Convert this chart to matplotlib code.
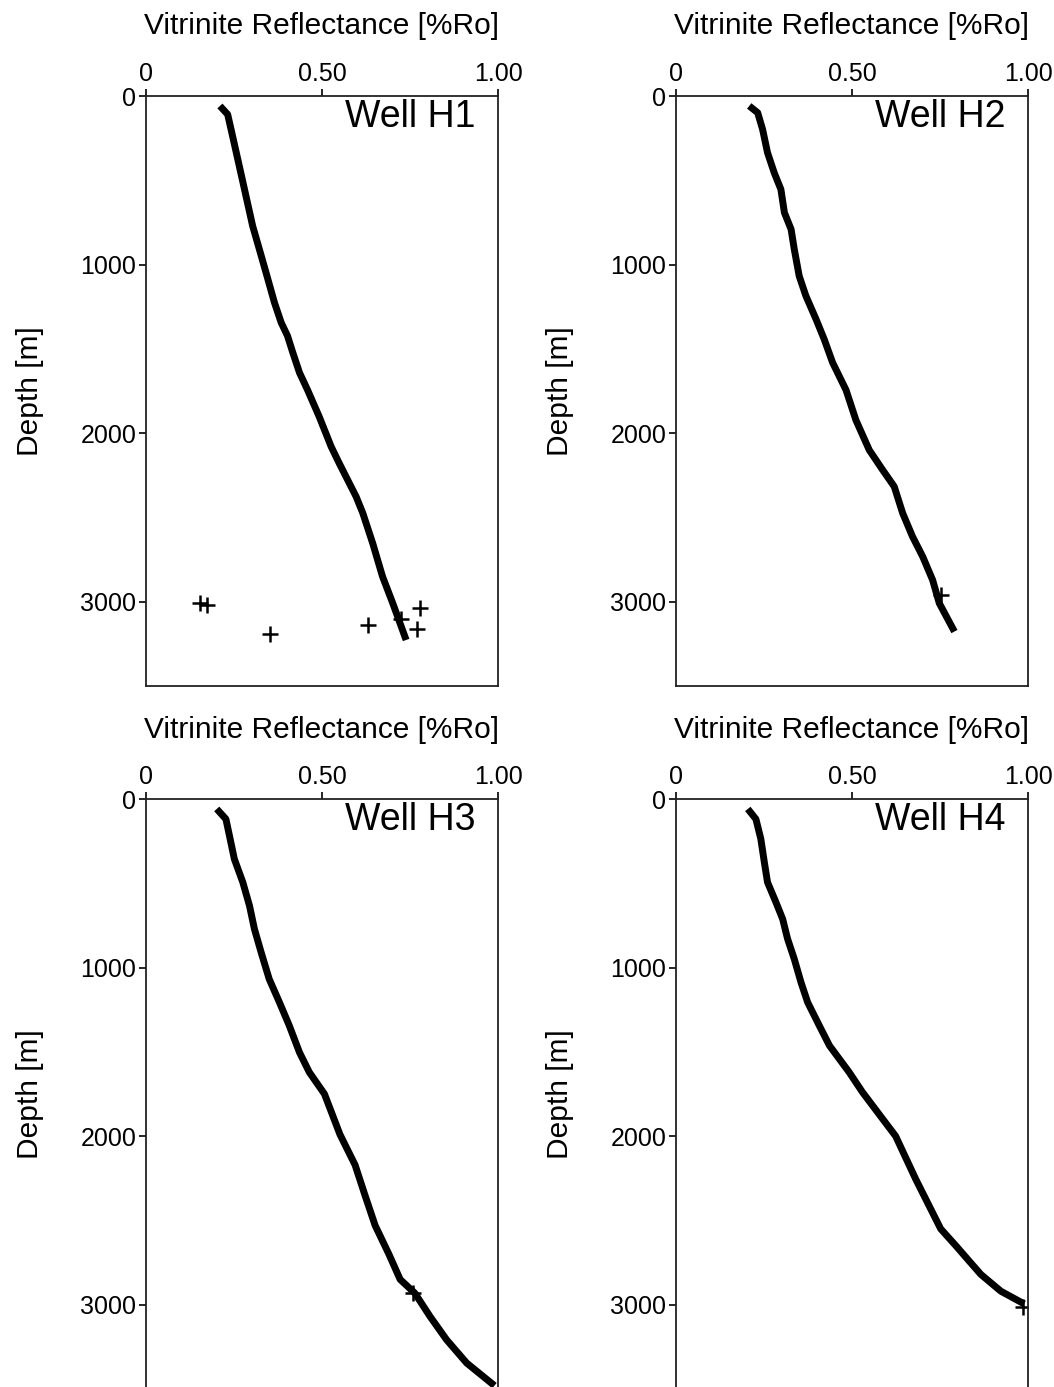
import matplotlib
matplotlib.use("Agg")
import matplotlib.pyplot as plt

plt.rcParams["font.family"] = ["Liberation Sans", "DejaVu Sans"]

# Modelled vitrinite reflectance profiles (%Ro vs depth in m)
h1_ro = [0.210, 0.232, 0.248, 0.265, 0.284, 0.303, 0.322, 0.341, 0.365, 0.384, 0.402,
         0.417, 0.436, 0.459, 0.492, 0.526, 0.549, 0.597, 0.616, 0.644, 0.672, 0.701, 0.739]
h1_depth = [59, 109, 257, 415, 593, 771, 909, 1048, 1226, 1344, 1423,
            1522, 1641, 1744, 1902, 2080, 2179, 2377, 2475, 2653, 2851, 3009, 3227]

h2_ro = [0.208, 0.232, 0.246, 0.260, 0.279, 0.298, 0.308, 0.327, 0.336, 0.350, 0.369,
         0.398, 0.421, 0.445, 0.483, 0.511, 0.549, 0.587, 0.620, 0.644, 0.672, 0.701,
         0.729, 0.748, 0.791]
h2_depth = [59, 99, 198, 336, 455, 554, 692, 791, 909, 1068, 1186,
            1325, 1443, 1582, 1744, 1922, 2100, 2218, 2317, 2475, 2614, 2733,
            2871, 3009, 3177]

h3_ro = [0.201, 0.227, 0.237, 0.251, 0.275, 0.294, 0.308, 0.327, 0.350, 0.379, 0.407,
         0.436, 0.464, 0.507, 0.551, 0.594, 0.622, 0.651, 0.690, 0.722, 0.764, 0.807,
         0.854, 0.911, 0.990]
h3_depth = [59, 119, 217, 356, 494, 633, 771, 909, 1068, 1206, 1344,
            1503, 1621, 1750, 1990, 2171, 2350, 2530, 2700, 2850, 2932, 3070,
            3208, 3346, 3480]

h4_ro = [0.204, 0.227, 0.241, 0.251, 0.260, 0.284, 0.303, 0.317, 0.336, 0.355, 0.374,
         0.407, 0.436, 0.464, 0.492, 0.530, 0.624, 0.681, 0.752, 0.795, 0.830, 0.866,
         0.923, 0.989]
h4_depth = [59, 119, 237, 376, 494, 613, 712, 830, 949, 1087, 1206,
            1344, 1463, 1542, 1621, 1740, 2000, 2255, 2550, 2650, 2734, 2820,
            2920, 2995]

# Measured reflectance samples
h1_meas_ro = [0.154, 0.173, 0.353, 0.630, 0.724, 0.778, 0.769]
h1_meas_depth = [3009, 3019, 3193, 3136, 3104, 3039, 3164]
h2_meas_ro = [0.753]
h2_meas_depth = [2960]
h3_meas_ro = [0.759]
h3_meas_depth = [2932]
h4_meas_ro = [0.985]
h4_meas_depth = [3013]

wells = ["Well H1", "Well H2", "Well H3", "Well H4"]
x_ticks = [0, 0.5, 1.0]
x_tick_labels = ["0", "0.50", "1.00"]
y_ticks = [0, 1000, 2000, 3000]
y_tick_labels = ["0", "1000", "2000", "3000"]

profiles = [(h1_ro, h1_depth, h1_meas_ro, h1_meas_depth),
            (h2_ro, h2_depth, h2_meas_ro, h2_meas_depth),
            (h3_ro, h3_depth, h3_meas_ro, h3_meas_depth),
            (h4_ro, h4_depth, h4_meas_ro, h4_meas_depth)]

W, H = 1054, 1387
fig = plt.figure(figsize=(W / 100, H / 100), dpi=100)

# axes boxes in pixels: left, top
boxes = [(146, 96), (676, 96), (146, 799), (676, 799)]
aw, ah = 352, 590

for (left, top), name, (ro, dep, mro, mdep) in zip(boxes, wells, profiles):
    ax = fig.add_axes([left / W, 1 - (top + ah) / H, aw / W, ah / H])
    ax.plot(mro, mdep, linestyle="none", marker="+", color="black",
            markersize=11, markeredgewidth=1.8, zorder=2)
    ax.plot(ro, dep, color="black", linewidth=5, solid_capstyle="butt",
            solid_joinstyle="round", zorder=3)
    ax.set_xlim(0, 1.0)
    ax.set_ylim(3500, 0)
    ax.xaxis.tick_top()
    ax.xaxis.set_label_position("top")
    ax.set_xticks(x_ticks)
    ax.set_xticklabels(x_tick_labels)
    ax.set_yticks(y_ticks)
    ax.set_yticklabels(y_tick_labels)
    ax.tick_params(axis="both", direction="out", length=5, width=1.2,
                   labelsize=18, pad=2, colors="black")
    ax.set_xlabel("Vitrinite Reflectance [%Ro]", fontsize=21.5, labelpad=20)
    ax.set_ylabel("Depth [m]", fontsize=21.5, labelpad=26)
    for sp in ax.spines.values():
        sp.set_linewidth(1.3)
        sp.set_color("#222222")
    ax.text(0.935, 0.964, name, transform=ax.transAxes, ha="right", va="center",
            fontsize=27, color="black")

fig.savefig("out.png", dpi=100)
